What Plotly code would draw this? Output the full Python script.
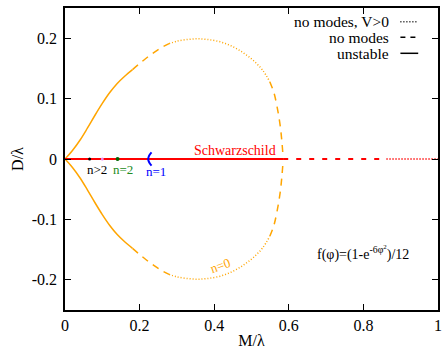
import plotly.graph_objects as go

# n=0 branch, upper half (lower half is its mirror image)
solid_M = [0, 0.02, 0.04, 0.06, 0.08, 0.10, 0.12, 0.14, 0.16, 0.181]
solid_D = [0, 0.014, 0.031, 0.051, 0.072, 0.092, 0.110, 0.125, 0.137, 0.148]
dash1_M = [0.181, 0.20, 0.22, 0.24, 0.26, 0.279]
dash1_D = [0.148, 0.158, 0.168, 0.177, 0.185, 0.191]
dot_M = [0.279, 0.30, 0.33, 0.355, 0.38, 0.416, 0.45, 0.48, 0.505, 0.53, 0.549]
dot_D = [0.191, 0.195, 0.198, 0.199, 0.198, 0.194, 0.186, 0.175, 0.163, 0.147, 0.128]
dash2_M = [0.549, 0.56, 0.569, 0.577, 0.582, 0.585]
dash2_D = [0.128, 0.110, 0.085, 0.055, 0.025, 0]

# Schwarzschild line segments
schw_solid = [0, 0.585]
schw_dash = [0.585, 0.862]
schw_dot = [0.862, 1.0]

# branch points
n1_M = [0.232, 0.227, 0.224, 0.223, 0.224, 0.227, 0.232]
n1_D = [0.011, 0.007, 0.003, 0, -0.003, -0.007, -0.011]
n2_M = [0.141]
nmore_M = [0.066]
nmore2_M = [0.10]

ORANGE = "#FFA500"
RED = "#FF0000"
FONT = "Liberation Serif"

fig = go.Figure()

def line(x, y, color, dash, width, shape="linear"):
    fig.add_trace(go.Scatter(x=x, y=y, mode="lines",
                             line=dict(color=color, dash=dash, width=width, shape=shape),
                             showlegend=False, hoverinfo="skip"))

for sgn in (1, -1):
    line(solid_M, [sgn * d for d in solid_D], ORANGE, "solid", 1.5, "spline")
    line(dash1_M, [sgn * d for d in dash1_D], ORANGE, "7px,6px", 1.5, "spline")
    line(dot_M, [sgn * d for d in dot_D], ORANGE, "1px,2px", 1.5, "spline")
    line(dash2_M, [sgn * d for d in dash2_D], ORANGE, "7px,6px", 1.5, "spline")

line(schw_solid, [0, 0], RED, "solid", 2)
line(schw_dash, [0, 0], RED, "5px,8px", 2)
line(schw_dot, [0, 0], RED, "1px,2px", 1.8)

line(n1_M, n1_D, "#0000FF", "solid", 2, "spline")
fig.add_trace(go.Scatter(x=n2_M, y=[0], mode="markers",
                         marker=dict(color="#006400", size=4), showlegend=False))
fig.add_trace(go.Scatter(x=nmore_M, y=[0], mode="markers",
                         marker=dict(color="black", size=3), showlegend=False))
fig.add_trace(go.Scatter(x=nmore2_M, y=[0], mode="markers",
                         marker=dict(color="#EE82EE", size=3), showlegend=False))

ann = [
    dict(x=0.455, y=0.014, text="Schwarzschild", font=dict(color=RED, size=14)),
    dict(x=0.086, y=-0.018, text="n>2", font=dict(color="black", size=13)),
    dict(x=0.156, y=-0.018, text="n=2", font=dict(color="#228B22", size=13)),
    dict(x=0.244, y=-0.021, text="n=1", font=dict(color="#0000FF", size=13)),
    dict(x=0.416, y=-0.176, text="n=0", font=dict(color=ORANGE, size=13), textangle=-20),
    dict(x=0.8, y=-0.155, text="f(φ)=(1-e<sup>-6φ<sup>2</sup></sup>)/12", font=dict(color="black", size=14)),
]
annotations = []
for a in ann:
    d = dict(xref="x", yref="y", showarrow=False, xanchor="center", yanchor="middle")
    d.update(a)
    d["font"] = dict(family=FONT, **a["font"])
    annotations.append(d)

# legend (text right-aligned with sample lines)
leg_items = [("no modes, V>0", "dot"), ("no modes", "dash"), ("unstable", "solid")]
leg_y_px = [21.7, 37.2, 53.3]
shapes = []
for (txt, dsh), py in zip(leg_items, leg_y_px):
    yp = (310 - py) / 302
    annotations.append(dict(xref="paper", yref="paper", x=(394 - 65) / 377, y=yp,
                            text=txt, showarrow=False, xanchor="right", yanchor="middle",
                            font=dict(family=FONT, size=15.5, color="black")))
    shapes.append(dict(type="line", xref="paper", yref="paper",
                       x0=(404 - 65) / 377, x1=(422 - 65) / 377, y0=yp, y1=yp,
                       line=dict(color="black", width=1.5,
                                 dash={"dot": "1px,2px", "dash": "5px,5px", "solid": "solid"}[dsh])))

axis_common = dict(showgrid=False, zeroline=False, showline=True, linecolor="black",
                   linewidth=1.5, mirror="ticks", ticks="inside", ticklen=6,
                   tickwidth=1.2, tickcolor="black",
                   tickfont=dict(family=FONT, size=16, color="black"))

fig.update_layout(
    width=444, height=349,
    margin=dict(l=65, r=2, t=8, b=39),
    paper_bgcolor="white", plot_bgcolor="white",
    xaxis=dict(range=[0, 1], tickvals=[0, 0.2, 0.4, 0.6, 0.8, 1],
               ticktext=["0", "0.2", "0.4", "0.6", "0.8", "1"],
               title=dict(text="M/λ", font=dict(family=FONT, size=16, color="black"), standoff=2),
               **axis_common),
    yaxis=dict(range=[-0.25, 0.25], tickvals=[-0.2, -0.1, 0, 0.1, 0.2],
               ticktext=["-0.2", "-0.1", "0", "0.1", "0.2"],
               title=dict(text="D/λ", font=dict(family=FONT, size=16, color="black"), standoff=4),
               ticklabelstandoff=3,
               **axis_common),
    annotations=annotations, shapes=shapes, showlegend=False,
)

fig.write_html("out.html")
